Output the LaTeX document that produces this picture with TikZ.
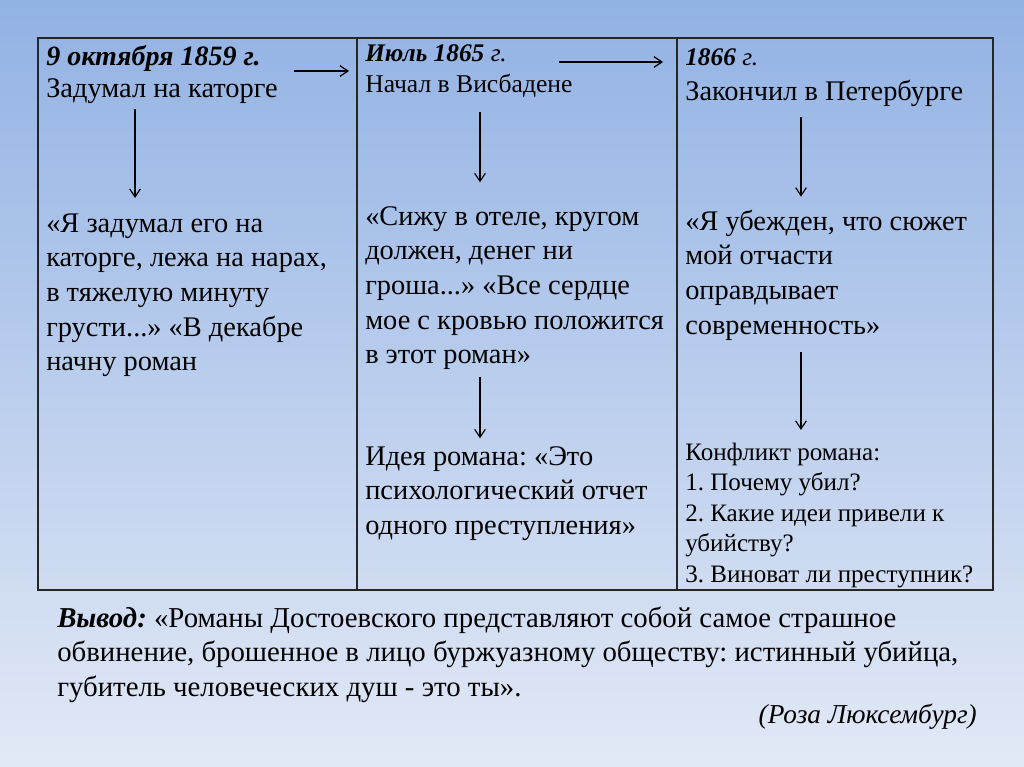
\documentclass[tikz,border=0pt]{standalone}
\usepackage{fontspec}
\setmainfont{Liberation Serif}
\usetikzlibrary{positioning,arrows.meta}
\definecolor{bgtop}{RGB}{146,178,228}
\definecolor{bgbottom}{RGB}{226,233,246}
\frenchspacing

\begin{document}
\begin{tikzpicture}[x=0.75pt, y=-0.75pt,
    txt/.style={inner sep=0pt, align=left, text=black},
    datehead/.style={txt, anchor=base west, font=\fontsize{19}{22}\selectfont},
    place/.style={txt, anchor=base west, font=\fontsize{21.3}{26}\selectfont},
    quote/.style={txt, anchor=north west, font=\fontsize{21.3}{25.9}\selectfont},
    small/.style={txt, anchor=north west, font=\fontsize{18.8}{22.9}\selectfont},
    arrow/.style={-{Straight Barb[length=6pt,width=8pt]}, line width=0.9pt},
    grid/.style={line width=1.3pt, draw=black!85}]
\shade[top color=bgtop, bottom color=bgbottom] (0,0) rectangle (1024,767);
\draw[grid] (38,38) rectangle (993,590);
\draw[grid] (357,38) -- (357,590);
\draw[grid] (677,38) -- (677,590);
\coordinate (ax1) at (135,0);
\coordinate (ax2) at (480,0);
\coordinate (ax3) at (801,0);
% first column
\node[datehead, font=\fontsize{21}{24}\selectfont] (date1) at (46,65) {\textbf{\textit{9 октября 1859 г.}}};
\node[place] (place1) at (46,98) {Задумал на каторге};
\node[quote] (quote1) at (46,208) {\strut«Я задумал его на\\каторге, лежа на нарах,\\в тяжелую минуту\\грусти...» «В декабре\\начну роман};
% second column
\node[datehead] (date2) at (365,62) {\textbf{\textit{Июль 1865}} \textit{г.}};
\node[place, font=\fontsize{19.2}{23}\selectfont] (place2) at (365,93) {Начал в Висбадене};
\node[quote] (quote2) at (365,201) {\strut«Сижу в отеле, кругом\\должен, денег ни\\гроша...» «Все сердце\\мое с кровью положится\\в этот роман»};
\node[quote] (idea) at (365,441) {\strut Идея романа: «Это\\психологический отчет\\одного преступления»};
% third column
\node[datehead] (date3) at (685,65) {\textbf{\textit{1866}} \textit{г.}};
\node[place] (place3) at (685,100) {Закончил в Петербурге};
\node[quote] (quote3) at (685,206) {\strut«Я убежден, что сюжет\\мой отчасти\\оправдывает\\современность»};
\node[small] (conflict) at (685,438.6) {\strut Конфликт романа:\\1. Почему убил?\\2. Какие идеи привели к\\убийству?\\3. Виноват ли преступник?};
% conclusion
\node[quote, font=\fontsize{21.6}{25.9}\selectfont] (summary) at (57,603) {\strut\textbf{\textit{Вывод:}} «Романы Достоевского представляют собой самое страшное\\обвинение, брошенное в лицо буржуазному обществу: истинный убийца,\\губитель человеческих душ - это ты».};
\node[txt, anchor=base east, font=\itshape\fontsize{20.5}{24}\selectfont] (author) at (977,723) {(Роза Люксембург)};
% arrows
\draw[arrow] ([xshift=25pt,yshift=-4.5pt]date1.base east) -- ([xshift=-12pt,yshift=-4.5pt]date1.base east -| date2.west);
\draw[arrow] ([xshift=39pt]date2.base east) -- ([xshift=-16.5pt]date2.base east -| date3.west);
\draw[arrow, shorten <=3.75pt, shorten >=7.5pt] (place1.south -| ax1) -- (quote1.north -| ax1);
\draw[arrow, shorten <=10pt, shorten >=14pt] (place2.south -| ax2) -- (quote2.north -| ax2);
\draw[arrow, shorten <=8pt, shorten >=7pt] (place3.south -| ax3) -- (quote3.north -| ax3);
\draw[arrow, shorten <=5pt, shorten >=2pt] (quote2.south -| ax2) -- (idea.north -| ax2);
\draw[arrow, shorten <=8.75pt, shorten >=6.5pt] (quote3.south -| ax3) -- (conflict.north -| ax3);
\end{tikzpicture}
\end{document}
